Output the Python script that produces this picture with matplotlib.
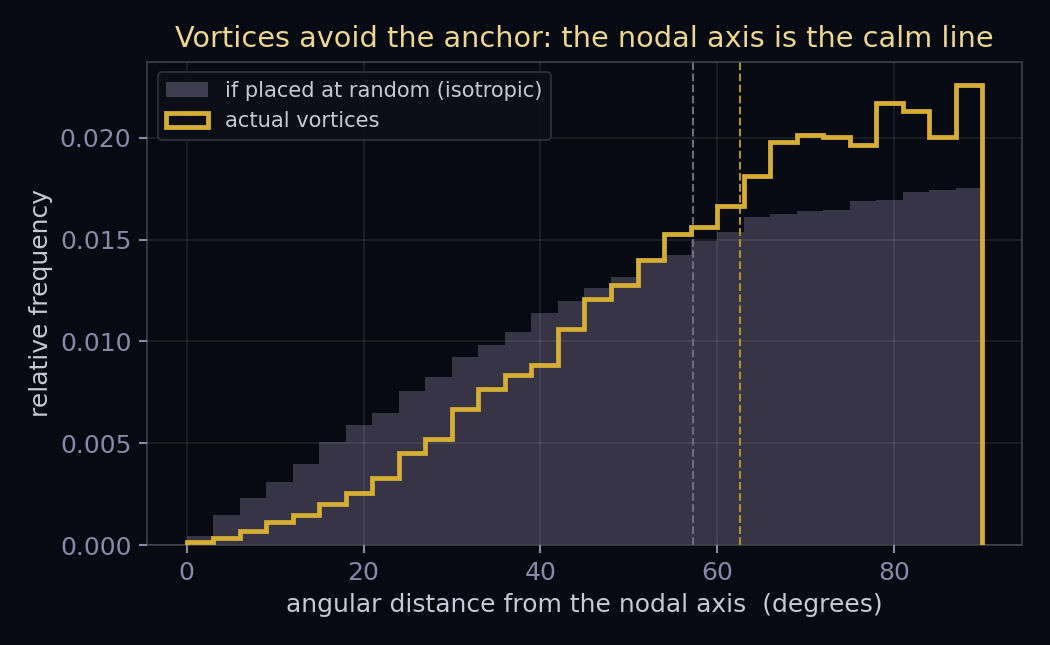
import matplotlib.pyplot as plt
import numpy as np
from matplotlib.patches import Patch

# bin edges, 3 degree bins from 0 to 90
bin_edges = np.arange(0, 93, 3)

# relative frequency if vortices were placed isotropically
isotropic = [
    0.00044, 0.00147, 0.00231, 0.00310, 0.00398, 0.00506, 0.00590, 0.00649,
    0.00757, 0.00826, 0.00924, 0.00983, 0.01047, 0.01140, 0.01200, 0.01263,
    0.01317, 0.01385, 0.01425, 0.01494, 0.01538, 0.01612, 0.01627, 0.01641,
    0.01646, 0.01690, 0.01695, 0.01735, 0.01745, 0.01754,
]

# relative frequency of the actual vortices
actual = [
    0.00013, 0.00034, 0.00067, 0.00113, 0.00147, 0.00201, 0.00256, 0.00329,
    0.00452, 0.00521, 0.00668, 0.00765, 0.00834, 0.00883, 0.01061, 0.01207,
    0.01278, 0.01400, 0.01528, 0.01564, 0.01666, 0.01813, 0.01979, 0.02013,
    0.02005, 0.01966, 0.02170, 0.02133, 0.02005, 0.02260,
]

mean_isotropic = 57.3
mean_actual = 62.6

BG = "#070a12"
BAR = "#363445"
GOLD = "#d4ae35"
TICK = "#8a87a8"
LABEL = "#c9c8d8"
SPINE = "#34343f"

fig = plt.figure(figsize=(7, 4.3), dpi=150, facecolor=BG)
ax = fig.add_axes([0.14, 0.155, 0.8333, 0.749])
ax.set_facecolor(BG)

ax.bar(bin_edges[:-1], isotropic, width=3, align="edge", color=BAR,
       linewidth=0, zorder=1)
ax.stairs(actual, bin_edges, color=GOLD, linewidth=2.3, zorder=3)

ax.axvline(mean_isotropic, color="#6c6a88", linestyle="--", linewidth=1.0, zorder=2.6)
ax.axvline(mean_actual, color="#b0912f", linestyle="--", linewidth=1.0, zorder=2.6)

# light translucent grid, shows through on top of the bars
ax.set_axisbelow(False)
ax.grid(True, color="white", alpha=0.09, linewidth=0.8)
ax.set_xlim(-4.5, 94.5)
ax.set_ylim(0, max(actual) * 1.05)
ax.set_xticks([0, 20, 40, 60, 80])
ax.set_yticks([0.0, 0.005, 0.010, 0.015, 0.020])
ax.set_yticklabels(["0.000", "0.005", "0.010", "0.015", "0.020"])

ax.tick_params(colors=TICK, labelsize=12, length=4, width=1.0)
for s in ax.spines.values():
    s.set_color(SPINE)
    s.set_linewidth(1.0)

ax.set_xlabel("angular distance from the nodal axis  (degrees)", color=LABEL,
              fontsize=12, labelpad=4)
ax.set_ylabel("relative frequency", color=LABEL, fontsize=12, labelpad=3)
ax.set_title("Vortices avoid the anchor: the nodal axis is the calm line",
             color="#ecd694", fontsize=13.8, pad=7)

handles = [
    Patch(facecolor="#3e3c4d", edgecolor="none"),
    Patch(facecolor="none", edgecolor=GOLD, linewidth=2.3),
]
labels = ["if placed at random (isotropic)", "actual vortices"]
leg = ax.legend(handles, labels, loc="upper left", fontsize=10.1,
                facecolor="#0d0f18", edgecolor="#2c2e3a", framealpha=0.95,
                labelcolor=LABEL)
leg.get_frame().set_linewidth(1.0)

fig.savefig("out.png", dpi=150, facecolor=BG)
